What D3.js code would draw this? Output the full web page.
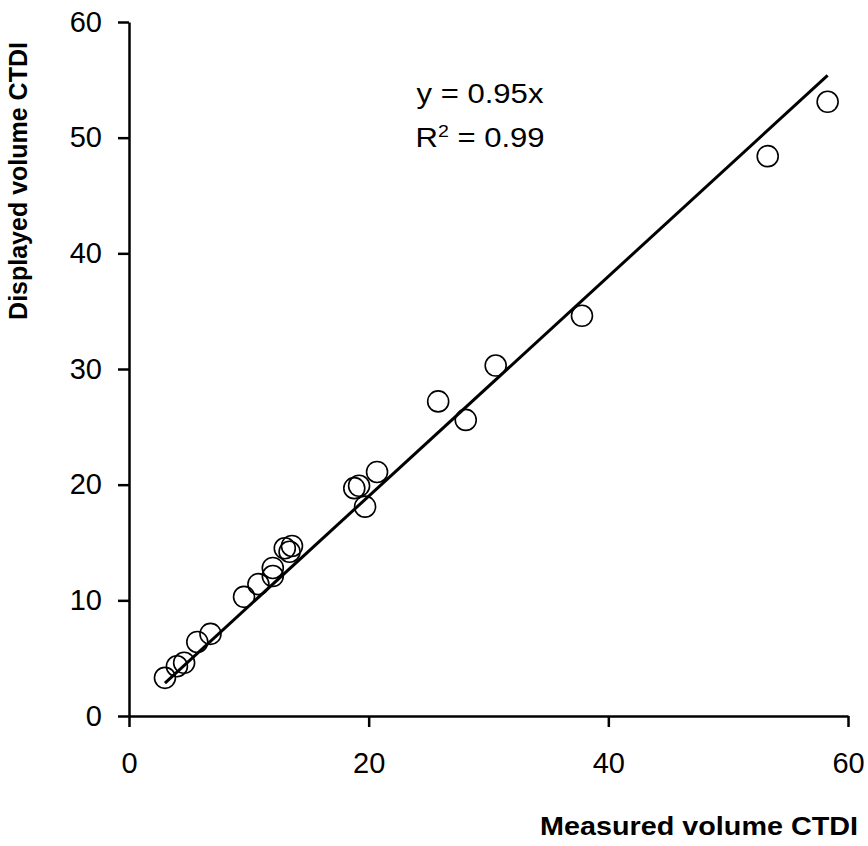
<!DOCTYPE html>
<html>
<head>
<meta charset="utf-8">
<script src="https://cdn.jsdelivr.net/npm/d3@7"></script>
<style>
body { margin: 0; background: #fff; }
svg text { font-family: "Liberation Sans", Arial, sans-serif; fill: #000; }
</style>
</head>
<body>
<script>
const measured = [3.0, 4.0, 4.6, 5.7, 6.8, 9.6, 10.8, 12.0, 12.0, 13.0, 13.6, 13.4, 18.8, 19.2, 19.7, 20.7, 25.8, 28.1, 30.6, 37.8, 53.3, 58.3]
const displayed = [3.3, 4.3, 4.6, 6.4, 7.1, 10.3, 11.4, 12.1, 12.8, 14.5, 14.7, 14.2, 19.7, 19.9, 18.1, 21.1, 27.2, 25.6, 30.3, 34.6, 48.4, 53.1]
const xTicks = [0, 20, 40, 60]
const yTicks = [0, 10, 20, 30, 40, 50, 60]
const slope = 0.95

const width = 868, height = 846

const svg = d3.select("body").append("svg")
    .attr("width", width)
    .attr("height", height)

const x = d3.scaleLinear().domain([0, 60]).range([129, 848])
const y = d3.scaleLinear().domain([0, 60]).range([716, 22])

// axes, ticks point outwards
const xAxis = svg.append("g")
    .attr("transform", `translate(0,${y(0)})`)
    .call(d3.axisBottom(x).tickValues(xTicks).tickSize(11).tickPadding(25).tickSizeOuter(0))
const yAxis = svg.append("g")
    .attr("transform", `translate(${x(0)},0)`)
    .call(d3.axisLeft(y).tickValues(yTicks).tickSize(11).tickPadding(16).tickSizeOuter(0))

for (const g of [xAxis, yAxis]) {
    g.select(".domain").attr("stroke", "#000").attr("stroke-width", 2.5)
    g.selectAll(".tick line").attr("stroke", "#000").attr("stroke-width", 2.5)
    g.selectAll(".tick text")
        .style("font-size", "29px")
        .style("font-family", "Liberation Sans, Arial, sans-serif")
        .attr("fill", "#000")
}

// trend line
const xMin = d3.min(measured), xMax = d3.max(measured)
svg.append("line")
    .attr("x1", x(xMin)).attr("y1", y(slope * xMin))
    .attr("x2", x(xMax)).attr("y2", y(slope * xMax))
    .attr("stroke", "#000")
    .attr("stroke-width", 3)

// points
const pts = measured.map((d, i) => [d, displayed[i]])
svg.append("g").selectAll("circle")
    .data(pts)
    .join("circle")
    .attr("cx", d => x(d[0]))
    .attr("cy", d => y(d[1]))
    .attr("r", 10.5)
    .attr("fill", "none")
    .attr("stroke", "#000")
    .attr("stroke-width", 1.6)

// equation (text in the original is a bit wide, so stretch it)
svg.append("text")
    .attr("transform", "translate(480,103) scale(1.15,1)")
    .attr("text-anchor", "middle")
    .style("font-size", "27px")
    .text("y = 0.95x")
const r2 = svg.append("text")
    .attr("transform", "translate(480,147) scale(1.15,1)")
    .attr("text-anchor", "middle")
    .style("font-size", "27px")
r2.append("tspan").text("R")
r2.append("tspan").style("font-size", "17px").attr("dy", -10).text("2")
r2.append("tspan").attr("dy", 10).text(" = 0.99")

// axis titles
svg.append("text")
    .attr("transform", "translate(858,835) scale(1.15,1)")
    .attr("text-anchor", "end")
    .style("font-size", "25px")
    .attr("font-weight", "bold")
    .text("Measured volume CTDI")
svg.append("text")
    .attr("transform", "translate(27,181) rotate(-90)")
    .attr("text-anchor", "middle")
    .style("font-size", "25px")
    .attr("font-weight", "bold")
    .text("Displayed volume CTDI")
</script>
</body>
</html>
